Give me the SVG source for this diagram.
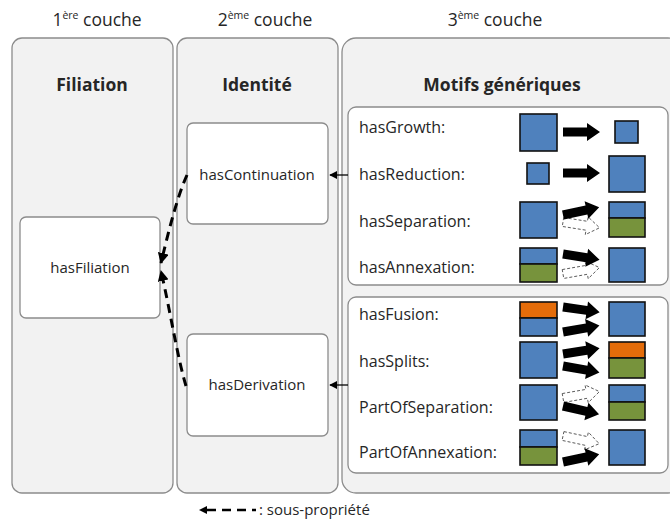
<svg xmlns="http://www.w3.org/2000/svg" xmlns:xlink="http://www.w3.org/1999/xlink" width="670" height="522" viewBox="0 0 670 522">
<style>
text{font-family:"Open Sans","Liberation Sans",sans-serif;fill:#262626}
.hdr{font-size:17.5px;text-anchor:middle}
.sup{font-size:10.5px}
.ttl{font-size:17.5px;font-weight:bold;text-anchor:middle}
.col{fill:#f2f2f2;stroke:#8c8c8c;stroke-width:1.3}
.box{fill:#fff;stroke:#8c8c8c;stroke-width:1.3}
.nd{font-size:15px;text-anchor:middle}
.lbl{font-size:16px}
.leg{font-size:15px}
.b{fill:#4f81bd;stroke:#111;stroke-width:1.6}
.g{fill:#77933c;stroke:#111;stroke-width:1.6}
.o{fill:#e46c0a;stroke:#111;stroke-width:1.6}
.sa{fill:#000}
.da{fill:#fff;stroke:#555;stroke-width:0.9;stroke-dasharray:3 2}
.dash{fill:none;stroke:#000;stroke-width:3;stroke-dasharray:9 6}
.sol{fill:none;stroke:#000;stroke-width:1.3}
</style>
<defs>
<path id="ba" d="M0,-4.5 L24,-4.5 L24,-9 L37,0 L24,9 L24,4.5 L0,4.5 Z"/>
<marker id="ah" viewBox="0 0 10 10" refX="9" refY="5" markerWidth="8" markerHeight="8" markerUnits="userSpaceOnUse" orient="auto"><path d="M0,0 L10,5 L0,10 Z" fill="#000"/></marker>
<marker id="dh" viewBox="0 0 10 10" refX="9" refY="5" markerWidth="11" markerHeight="11" markerUnits="userSpaceOnUse" orient="auto"><path d="M0,0 L10,5 L0,10 Z" fill="#000"/></marker>
</defs>
<g id="headers">
<text class="hdr" x="97" y="26">1<tspan class="sup" dy="-7">ère</tspan><tspan dy="7"> couche</tspan></text>
<text class="hdr" x="265" y="26">2<tspan class="sup" dy="-7">ème</tspan><tspan dy="7"> couche</tspan></text>
<text class="hdr" x="495" y="26">3<tspan class="sup" dy="-7">ème</tspan><tspan dy="7"> couche</tspan></text>
</g>
<g id="col1"><rect class="col" x="12" y="38" width="161" height="455" rx="10"/><text class="ttl" x="92" y="91">Filiation</text></g>
<g id="col2"><rect class="col" x="177" y="38" width="161" height="455" rx="10"/><text class="ttl" x="257" y="91">Identité</text></g>
<g id="col3"><rect class="col" x="342" y="38" width="340" height="455" rx="14"/><text class="ttl" x="502" y="91">Motifs génériques</text></g>
<g id="hasFiliation"><rect class="box" x="20" y="217" width="140" height="101" rx="6"/><text class="nd" x="90" y="273">hasFiliation</text></g>
<g id="hasContinuation"><rect class="box" x="187" y="123" width="141" height="101" rx="6"/><text class="nd" x="257" y="180">hasContinuation</text></g>
<g id="hasDerivation"><rect class="box" x="187" y="334" width="141" height="102" rx="6"/><text class="nd" x="257" y="390">hasDerivation</text></g>
<g id="group1">
<rect class="box" x="348" y="107" width="320" height="178" rx="8"/>
<text class="lbl" x="359" y="133">hasGrowth:</text>
<rect class="b" x="520" y="114" width="37" height="37"/>
<use href="#ba" class="sa" transform="translate(563,132)"/>
<rect class="b" x="615" y="121" width="23" height="22"/>
<text class="lbl" x="359" y="180">hasReduction:</text>
<rect class="b" x="527" y="163" width="22" height="21"/>
<use href="#ba" class="sa" transform="translate(563,173)"/>
<rect class="b" x="609" y="156" width="36" height="36"/>
<text class="lbl" x="359" y="227">hasSeparation:</text>
<rect class="b" x="520" y="202" width="37" height="36"/>
<use href="#ba" class="da" transform="translate(563,222) rotate(9)"/>
<use href="#ba" class="sa" transform="translate(563,215) rotate(-12)"/>
<rect class="b" x="609" y="202" width="36" height="16"/>
<rect class="g" x="609" y="218" width="36" height="19"/>
<text class="lbl" x="359" y="273">hasAnnexation:</text>
<rect class="b" x="520" y="248" width="37" height="16"/>
<rect class="g" x="520" y="264" width="37" height="18"/>
<use href="#ba" class="da" transform="translate(563,274) rotate(-10)"/>
<use href="#ba" class="sa" transform="translate(563,254) rotate(9)"/>
<rect class="b" x="609" y="248" width="36" height="34"/>
</g>
<g id="group2">
<rect class="box" x="348" y="297" width="320" height="176" rx="8"/>
<text class="lbl" x="359" y="320">hasFusion:</text>
<rect class="o" x="520" y="302" width="37" height="16"/>
<rect class="b" x="520" y="318" width="37" height="18"/>
<use href="#ba" class="sa" transform="translate(563,307) rotate(8)"/>
<use href="#ba" class="sa" transform="translate(563,332) rotate(-10)"/>
<rect class="b" x="609" y="302" width="36" height="34"/>
<text class="lbl" x="359" y="367">hasSplits:</text>
<rect class="b" x="520" y="342" width="37" height="36"/>
<use href="#ba" class="sa" transform="translate(563,354) rotate(-9)"/>
<use href="#ba" class="sa" transform="translate(563,366) rotate(10)"/>
<rect class="o" x="609" y="342" width="36" height="16"/>
<rect class="g" x="609" y="358" width="36" height="20"/>
<text class="lbl" x="359" y="413">PartOfSeparation:</text>
<rect class="b" x="520" y="385" width="37" height="35"/>
<use href="#ba" class="da" transform="translate(563,398) rotate(-10)"/>
<use href="#ba" class="sa" transform="translate(563,406) rotate(13)"/>
<rect class="b" x="609" y="385" width="36" height="17"/>
<rect class="g" x="609" y="402" width="36" height="18"/>
<text class="lbl" x="359" y="458">PartOfAnnexation:</text>
<rect class="b" x="520" y="430" width="37" height="17"/>
<rect class="g" x="520" y="447" width="37" height="18"/>
<use href="#ba" class="da" transform="translate(563,436) rotate(12)"/>
<use href="#ba" class="sa" transform="translate(563,462) rotate(-12)"/>
<rect class="b" x="609" y="430" width="36" height="35"/>
</g>
<g id="connectors">
<line class="sol" x1="348" y1="175" x2="330" y2="175" marker-end="url(#ah)"/>
<line class="sol" x1="348" y1="385" x2="330" y2="385" marker-end="url(#ah)"/>
<path class="dash" d="M187,175 C178,195 170,225 161,263" marker-end="url(#dh)"/>
<path class="dash" d="M186,386 C178,360 170,310 161,271" marker-end="url(#dh)"/>
</g>
<g id="legend">
<path d="M199,510 L207,506 L207,514 Z" fill="#000"/>
<line x1="207" y1="510" x2="256" y2="510" stroke="#000" stroke-width="2.5" stroke-dasharray="9 6"/>
<text class="leg" x="259" y="515">: sous-propriété</text>
</g>
</svg>
